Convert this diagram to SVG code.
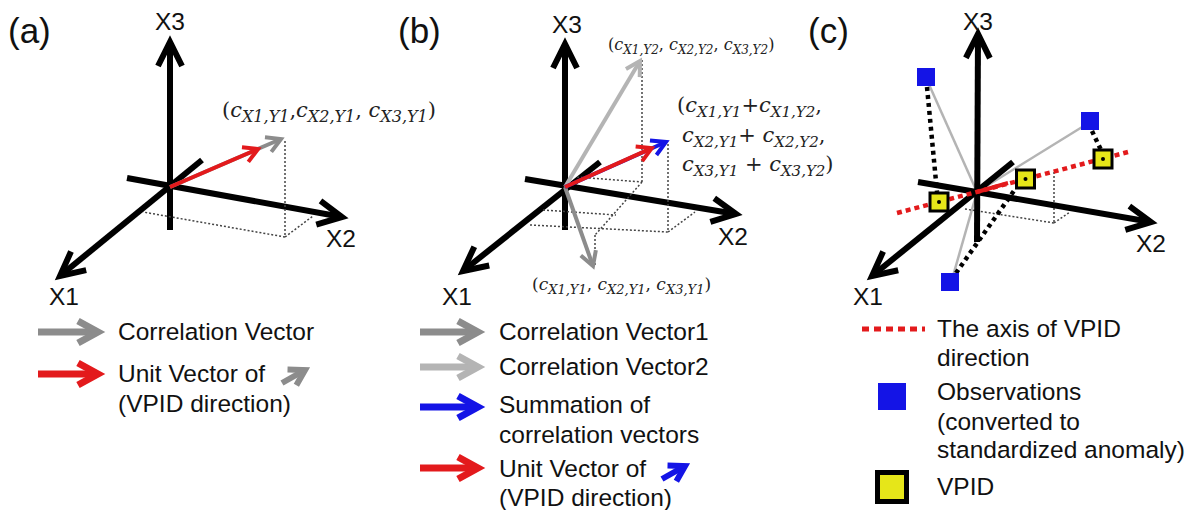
<svg xmlns="http://www.w3.org/2000/svg" width="1194" height="510" viewBox="0 0 1194 510">
<style>
.t{font-family:"Liberation Sans",Arial,sans-serif;font-size:24.5px;fill:#111}
.pl{font-family:"Liberation Sans",Arial,sans-serif;font-size:35px;fill:#111}
.ax{stroke:#000;stroke-width:6;fill:none}
.m{font-family:"DejaVu Serif","Liberation Serif",serif;fill:#222}
.i{font-style:italic}
.dot{stroke:#444;stroke-width:1.5;stroke-dasharray:2 2;fill:none}
.v{stroke-width:4;fill:none}
.lg{stroke-width:7;fill:none}
</style>
<defs>
<marker id="mAx" markerUnits="userSpaceOnUse" viewBox="-30 -16 34 32" markerWidth="34" markerHeight="32" refX="0" refY="0" orient="auto" overflow="visible"><path d="M-24,-12 L0,0 L-24,12" fill="none" stroke="#000" stroke-width="6"/></marker>
<marker id="mR" markerUnits="userSpaceOnUse" viewBox="-20 -12 24 24" markerWidth="24" markerHeight="24" refX="0" refY="0" orient="auto" overflow="visible"><path d="M-14,-8 L0,0 L-14,8" fill="none" stroke="#e31a1c" stroke-width="4"/></marker>
<marker id="mG" markerUnits="userSpaceOnUse" viewBox="-20 -12 24 24" markerWidth="24" markerHeight="24" refX="0" refY="0" orient="auto" overflow="visible"><path d="M-14,-8 L0,0 L-14,8" fill="none" stroke="#8c8c8c" stroke-width="4"/></marker>
<marker id="mL" markerUnits="userSpaceOnUse" viewBox="-20 -12 24 24" markerWidth="24" markerHeight="24" refX="0" refY="0" orient="auto" overflow="visible"><path d="M-14,-8 L0,0 L-14,8" fill="none" stroke="#b4b4b4" stroke-width="4"/></marker>
<marker id="mB" markerUnits="userSpaceOnUse" viewBox="-20 -12 24 24" markerWidth="24" markerHeight="24" refX="0" refY="0" orient="auto" overflow="visible"><path d="M-14,-8 L0,0 L-14,8" fill="none" stroke="#1414e6" stroke-width="4"/></marker>
<marker id="lR" markerUnits="userSpaceOnUse" viewBox="-26 -14 30 28" markerWidth="30" markerHeight="28" refX="0" refY="0" orient="auto" overflow="visible"><path d="M-20,-11 L0,0 L-20,11" fill="none" stroke="#e31a1c" stroke-width="7"/></marker>
<marker id="lG" markerUnits="userSpaceOnUse" viewBox="-26 -14 30 28" markerWidth="30" markerHeight="28" refX="0" refY="0" orient="auto" overflow="visible"><path d="M-20,-11 L0,0 L-20,11" fill="none" stroke="#8c8c8c" stroke-width="7"/></marker>
<marker id="lL" markerUnits="userSpaceOnUse" viewBox="-26 -14 30 28" markerWidth="30" markerHeight="28" refX="0" refY="0" orient="auto" overflow="visible"><path d="M-20,-11 L0,0 L-20,11" fill="none" stroke="#b4b4b4" stroke-width="7"/></marker>
<marker id="lB" markerUnits="userSpaceOnUse" viewBox="-26 -14 30 28" markerWidth="30" markerHeight="28" refX="0" refY="0" orient="auto" overflow="visible"><path d="M-20,-11 L0,0 L-20,11" fill="none" stroke="#1414e6" stroke-width="7"/></marker>
<marker id="sG" markerUnits="userSpaceOnUse" viewBox="-20 -12 24 24" markerWidth="24" markerHeight="24" refX="0" refY="0" orient="auto" overflow="visible"><path d="M-15,-9 L0,0 L-15,9" fill="none" stroke="#8c8c8c" stroke-width="6"/></marker>
<marker id="sB" markerUnits="userSpaceOnUse" viewBox="-20 -12 24 24" markerWidth="24" markerHeight="24" refX="0" refY="0" orient="auto" overflow="visible"><path d="M-15,-9 L0,0 L-15,9" fill="none" stroke="#1414e6" stroke-width="6"/></marker>
</defs>
<rect width="1194" height="510" fill="#fff"/>

<!-- ===== Panel (a) ===== -->
<g id="panel-a">
  <text class="pl" x="8" y="43">(a)</text>
  <g id="a-axes">
    <line class="ax" x1="170" y1="230" x2="170" y2="42" marker-end="url(#mAx)"/>
    <line class="ax" x1="127" y1="178" x2="342" y2="217" marker-end="url(#mAx)"/>
    <line class="ax" x1="202" y1="160" x2="60" y2="276" marker-end="url(#mAx)"/>
    <text class="t" x="170" y="30" text-anchor="middle">X3</text>
    <text class="t" x="341" y="247" text-anchor="middle">X2</text>
    <text class="t" x="64" y="305" text-anchor="middle">X1</text>
  </g>
  <g id="a-guides">
    <polyline class="dot" points="285,141 285,237 143,212"/>
    <line class="dot" x1="285" y1="237" x2="313" y2="216"/>
  </g>
  <g id="a-vectors">
    <line class="v" stroke="#8c8c8c" x1="170" y1="187" x2="281" y2="139" marker-end="url(#mG)"/>
    <line class="v" stroke="#e31a1c" x1="170" y1="187" x2="258" y2="149" marker-end="url(#mR)"/>
  </g>
  <g id="a-label">
    <text class="m" x="222" y="117" font-size="21">(<tspan class="i">c</tspan><tspan class="i" font-size="16" dy="5">X1,Y1</tspan><tspan dy="-5">,</tspan><tspan class="i">c</tspan><tspan class="i" font-size="16" dy="5">X2,Y1</tspan><tspan dy="-5">, </tspan><tspan class="i">c</tspan><tspan class="i" font-size="16" dy="5">X3,Y1</tspan><tspan dy="-5">)</tspan></text>
  </g>
  <g id="a-legend">
    <line class="lg" stroke="#8c8c8c" x1="38" y1="332" x2="98" y2="332" marker-end="url(#lG)"/>
    <text class="t" x="118" y="340">Correlation Vector</text>
    <line class="lg" stroke="#e31a1c" x1="38" y1="374" x2="98" y2="374" marker-end="url(#lR)"/>
    <text class="t" x="118" y="382">Unit Vector of</text>
    <line stroke="#8c8c8c" stroke-width="6" x1="282" y1="383" x2="305" y2="370" marker-end="url(#sG)"/>
    <text class="t" x="118" y="412">(VPID direction)</text>
  </g>
</g>

<!-- ===== Panel (b) ===== -->
<g id="panel-b">
  <text class="pl" x="398" y="43">(b)</text>
  <g id="b-axes">
    <line class="ax" x1="565" y1="230" x2="565" y2="44" marker-end="url(#mAx)"/>
    <line class="ax" x1="525" y1="179" x2="736" y2="214" marker-end="url(#mAx)"/>
    <line class="ax" x1="600" y1="162" x2="463" y2="271" marker-end="url(#mAx)"/>
    <text class="t" x="567" y="33" text-anchor="middle">X3</text>
    <text class="t" x="733" y="245" text-anchor="middle">X2</text>
    <text class="t" x="457" y="305" text-anchor="middle">X1</text>
  </g>
  <g id="b-guides">
    <line class="dot" x1="642" y1="60" x2="642" y2="182"/>
    <line class="dot" x1="577" y1="177" x2="642" y2="182"/>
    <line class="dot" x1="642" y1="182" x2="595" y2="235"/>
    <line class="dot" x1="543" y1="210" x2="616" y2="215"/>
    <line class="dot" x1="530" y1="225" x2="668" y2="232"/>
    <line class="dot" x1="668" y1="144" x2="668" y2="232"/>
    <line class="dot" x1="668" y1="232" x2="695" y2="212"/>
    <line class="dot" x1="595" y1="235" x2="595" y2="266"/>
  </g>
  <g id="b-vectors">
    <line class="v" stroke="#b4b4b4" x1="565" y1="187" x2="640" y2="61" marker-end="url(#mL)"/>
    <line class="v" stroke="#8c8c8c" x1="565" y1="187" x2="593" y2="266" marker-end="url(#mG)"/>
    <line class="v" stroke="#1414e6" x1="565" y1="187" x2="666" y2="142" marker-end="url(#mB)"/>
    <line class="v" stroke="#e31a1c" x1="565" y1="187" x2="651.7" y2="148.1" marker-end="url(#mR)"/>
  </g>
  <g id="b-label-v2">
    <text class="m" x="608" y="50" font-size="16" fill="#444">(<tspan class="i">c</tspan><tspan class="i" font-size="12" dy="4">X1,Y2</tspan><tspan dy="-4">, </tspan><tspan class="i">c</tspan><tspan class="i" font-size="12" dy="4">X2,Y2</tspan><tspan dy="-4">, </tspan><tspan class="i">c</tspan><tspan class="i" font-size="12" dy="4">X3,Y2</tspan><tspan dy="-4">)</tspan></text>
  </g>
  <g id="b-label-v1">
    <text class="m" x="532" y="290" font-size="17" fill="#444">(<tspan class="i">c</tspan><tspan class="i" font-size="13" dy="4">X1,Y1</tspan><tspan dy="-4">, </tspan><tspan class="i">c</tspan><tspan class="i" font-size="13" dy="4">X2,Y1</tspan><tspan dy="-4">, </tspan><tspan class="i">c</tspan><tspan class="i" font-size="13" dy="4">X3,Y1</tspan><tspan dy="-4">)</tspan></text>
  </g>
  <g id="b-label-sum">
    <text class="m" x="677" y="112" font-size="21">(<tspan class="i">c</tspan><tspan class="i" font-size="15" dy="5">X1,Y1</tspan><tspan dy="-5">+</tspan><tspan class="i">c</tspan><tspan class="i" font-size="15" dy="5">X1,Y2</tspan><tspan dy="-5">,</tspan></text>
    <text class="m" x="682" y="142" font-size="21"><tspan class="i">c</tspan><tspan class="i" font-size="15" dy="5">X2,Y1</tspan><tspan dy="-5">+ </tspan><tspan class="i">c</tspan><tspan class="i" font-size="15" dy="5">X2,Y2</tspan><tspan dy="-5">,</tspan></text>
    <text class="m" x="682" y="171" font-size="21"><tspan class="i">c</tspan><tspan class="i" font-size="15" dy="5">X3,Y1</tspan><tspan dy="-5"> + </tspan><tspan class="i">c</tspan><tspan class="i" font-size="15" dy="5">X3,Y2</tspan><tspan dy="-5">)</tspan></text>
  </g>
  <g id="b-legend">
    <line class="lg" stroke="#8c8c8c" x1="420" y1="332" x2="478" y2="332" marker-end="url(#lG)"/>
    <text class="t" x="499" y="340">Correlation Vector1</text>
    <line class="lg" stroke="#b4b4b4" x1="420" y1="367" x2="478" y2="367" marker-end="url(#lL)"/>
    <text class="t" x="499" y="375">Correlation Vector2</text>
    <line class="lg" stroke="#1414e6" x1="420" y1="407" x2="478" y2="407" marker-end="url(#lB)"/>
    <text class="t" x="499" y="413">Summation of</text>
    <text class="t" x="499" y="443">correlation vectors</text>
    <line class="lg" stroke="#e31a1c" x1="420" y1="468" x2="478" y2="468" marker-end="url(#lR)"/>
    <text class="t" x="499" y="477">Unit Vector of</text>
    <line stroke="#1414e6" stroke-width="6" x1="662" y1="479" x2="685" y2="466" marker-end="url(#sB)"/>
    <text class="t" x="499" y="506">(VPID direction)</text>
  </g>
</g>

<!-- ===== Panel (c) ===== -->
<g id="panel-c">
  <text class="pl" x="808" y="43">(c)</text>
  <g id="c-rays">
    <line stroke="#b4b4b4" stroke-width="2.5" x1="977" y1="192" x2="927" y2="80"/>
    <line stroke="#b4b4b4" stroke-width="2.5" x1="977" y1="192" x2="1087" y2="124"/>
    <line stroke="#b4b4b4" stroke-width="2.5" x1="977" y1="192" x2="953" y2="276"/>
  </g>
  <g id="c-guides">
    <line class="dot" x1="1054" y1="172" x2="1054" y2="223"/>
    <line class="dot" x1="965" y1="209" x2="1054" y2="223"/>
    <line class="dot" x1="1054" y1="223" x2="1070" y2="212"/>
  </g>
  <g id="c-axes">
    <line class="ax" x1="977" y1="242" x2="978" y2="34" marker-end="url(#mAx)"/>
    <line class="ax" x1="918" y1="182" x2="1151" y2="222" marker-end="url(#mAx)"/>
    <line class="ax" x1="1013" y1="162" x2="872" y2="276" marker-end="url(#mAx)"/>
    <text class="t" x="978" y="30" text-anchor="middle">X3</text>
    <text class="t" x="1151" y="252" text-anchor="middle">X2</text>
    <text class="t" x="868" y="305" text-anchor="middle">X1</text>
  </g>
  <g id="c-projections">
    <line stroke="#000" stroke-width="4.5" stroke-dasharray="4 4" x1="927" y1="87" x2="937" y2="192"/>
    <line stroke="#000" stroke-width="4.5" stroke-dasharray="4 4" x1="1092" y1="131" x2="1101" y2="150"/>
    <line stroke="#000" stroke-width="4.5" stroke-dasharray="4 4" x1="956" y1="273" x2="1016" y2="188"/>
  </g>
  <g id="c-vpid-axis">
    <line stroke="#e31a1c" stroke-width="4.5" stroke-dasharray="5 4" x1="897" y1="213" x2="1128" y2="152"/>
    <line stroke="#e31a1c" stroke-width="4" x1="977" y1="192" x2="1008" y2="183"/>
  </g>
  <g id="c-observations" fill="#1414e6">
    <rect x="917" y="68" width="18" height="18"/>
    <rect x="1081" y="112" width="18" height="18"/>
    <rect x="941" y="273" width="18" height="18"/>
  </g>
  <g id="c-vpid" fill="#e6e619" stroke="#000" stroke-width="3">
    <rect x="930" y="193" width="18" height="18"/>
    <rect x="1016.5" y="170" width="18" height="18"/>
    <rect x="1094" y="150" width="18" height="18"/>
  </g>
  <g id="c-vpid-dots" fill="#000">
    <circle cx="939" cy="202" r="2"/>
    <circle cx="1025.5" cy="179" r="2"/>
    <circle cx="1103" cy="159" r="2"/>
  </g>
  <g id="c-legend">
    <line stroke="#e31a1c" stroke-width="5" stroke-dasharray="7 5" x1="862" y1="329" x2="925" y2="329"/>
    <text class="t" x="937" y="337">The axis of VPID</text>
    <text class="t" x="937" y="366">direction</text>
    <rect x="878" y="383" width="28" height="27" fill="#1414e6"/>
    <text class="t" x="937" y="400">Observations</text>
    <text class="t" x="937" y="430">(converted to</text>
    <text class="t" x="937" y="458">standardized anomaly)</text>
    <rect x="877.5" y="472.5" width="29" height="29" fill="#e6e619" stroke="#000" stroke-width="5"/>
    <text class="t" x="937" y="495">VPID</text>
  </g>
</g>
</svg>
